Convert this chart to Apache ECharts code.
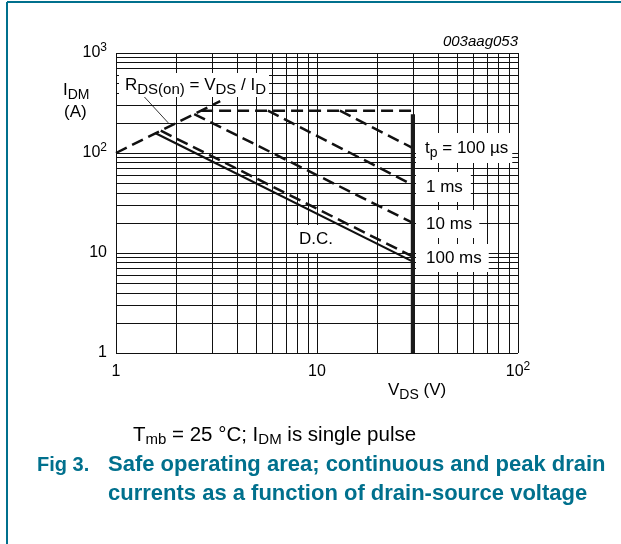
<!DOCTYPE html>
<html>
<head>
<meta charset="utf-8">
<script src="https://cdn.jsdelivr.net/npm/echarts@6/dist/echarts.min.js"></script>
<style>
html, body { margin: 0; padding: 0; background: #fff; }
#chart { width: 621px; height: 544px; }
</style>
</head>
<body>
<div id="chart"></div>
<script>
// Grid lines of the log-log safe operating area plot
const vdsGrid = [1, 2, 3, 4, 5, 6, 7, 8, 9, 10, 20, 30, 40, 50, 60, 70, 80, 90, 100];
const idGrid = [1, 2, 3, 4, 5, 6, 7, 8, 9, 10, 20, 30, 40, 50, 60, 70, 80, 90,
                100, 200, 300, 400, 500, 600, 700, 800, 900, 1000];
const vdsTicks = [1, 10, 100];
const idTicks = [1, 10, 100, 1000];

// Limit lines, [VDS (V), IDM (A)]
const rdsOnLimit = [[1, 100], [3.3, 330]];
const pulseTop = [[2.65, 265], [30, 265]];
const pulse100us = [[13, 265], [30, 112]];
const pulse1ms = [[5.7, 265], [30, 47.8]];
const pulse10ms = [[2.45, 245], [30, 20]];
const pulse100ms = [[1.67, 167], [30, 9.2]];
const dcLimit = [[1.575, 157.5], [30, 8.2]];
const vdsMax = [[30, 1], [30, 244]];
const rdsArrow = [[1.36, 378], [1.82, 200]];

const FONT = '"Liberation Sans", Arial, Helvetica, sans-serif';
const TEAL = '#00708d';
const INK = '#111';

function powLabel(v) {
  const e = Math.round(Math.log10(v));
  if (e === 0) return '1';
  if (e === 1) return '10';
  return '10{sup|' + e + '}';
}
const supRich = { sup: { fontSize: 12, lineHeight: 12, verticalAlign: 'top', fontFamily: FONT, color: '#000' } };

function dashed(name, data, width) {
  return {
    name, type: 'line', data, showSymbol: false, silent: true, z: 5,
    lineStyle: { color: INK, width: width || 2.5, type: [12, 6], cap: 'butt' }
  };
}

const gridLines = [];
vdsGrid.forEach(v => gridLines.push({ xAxis: v }));
idGrid.forEach(v => gridLines.push({ yAxis: v }));

// rich text styles for subscripts
const mainR = (size) => ({ fontSize: size, lineHeight: 24, fontFamily: FONT, color: '#000', verticalAlign: 'middle' });
const subR = (size) => ({ fontSize: size, lineHeight: 12, fontFamily: FONT, color: '#000', verticalAlign: 'bottom' });

function label(x, y, text, size, subSize, extra) {
  return {
    type: 'text', x, y, z: 100,
    style: Object.assign({
      text, fill: '#000', fontFamily: FONT, fontSize: size, lineHeight: 24,
      align: 'left', verticalAlign: 'middle',
      rich: { m: mainR(size), s: subR(subSize) }
    }, extra || {})
  };
}

function caption(x, y, text, size) {
  return {
    type: 'text', x, y, z: 100,
    style: { text, fill: TEAL, fontFamily: FONT, fontSize: size, fontWeight: 'bold', align: 'left', verticalAlign: 'middle' }
  };
}

const chart = echarts.init(document.getElementById('chart'), null, { renderer: 'canvas' });
chart.setOption({
  animation: false,
  backgroundColor: '#fff',
  grid: { left: 116, top: 53, width: 402, height: 300, containLabel: false },
  xAxis: {
    type: 'log', logBase: 10, min: 1, max: 100,
    axisLine: { show: false }, axisTick: { show: false }, splitLine: { show: false },
    axisLabel: {
      margin: 8, fontSize: 16, fontFamily: FONT, color: '#000', lineHeight: 22,
      formatter: powLabel, rich: supRich, showMinLabel: true, showMaxLabel: true
    }
  },
  yAxis: {
    type: 'log', logBase: 10, min: 1, max: 1000,
    axisLine: { show: false }, axisTick: { show: false }, splitLine: { show: false },
    axisLabel: {
      margin: 9, fontSize: 16, fontFamily: FONT, color: '#000', lineHeight: 22,
      formatter: powLabel, rich: supRich, showMinLabel: true, showMaxLabel: true
    }
  },
  series: [
    {
      name: 'grid', type: 'line', data: [], silent: true, z: 1,
      markLine: {
        silent: true, symbol: ['none', 'none'], label: { show: false },
        lineStyle: { color: '#111', width: 1, type: 'solid' },
        emphasis: { disabled: true },
        data: gridLines
      }
    },
    dashed('RDS(on) limit', rdsOnLimit),
    dashed('tp top', pulseTop),
    dashed('tp = 100 us', pulse100us),
    dashed('1 ms', pulse1ms),
    dashed('10 ms', pulse10ms),
    dashed('100 ms', pulse100ms),
    {
      name: 'D.C.', type: 'line', data: dcLimit, showSymbol: false, silent: true, z: 5,
      lineStyle: { color: INK, width: 2.2 }
    },
    {
      name: 'VDS max', type: 'line', data: vdsMax, showSymbol: false, silent: true, z: 6,
      lineStyle: { color: '#1a1a1a', width: 4.2, cap: 'butt' }
    },
    {
      name: 'arrow', type: 'line', data: [], silent: true, z: 7,
      markLine: {
        silent: true, symbol: ['none', 'arrow'], symbolSize: [0, 7], label: { show: false },
        lineStyle: { color: '#000', width: 0.8, type: 'solid' },
        emphasis: { disabled: true },
        data: [[{ coord: rdsArrow[0] }, { coord: rdsArrow[1] }]]
      }
    }
  ],
  graphic: [
    // outer frame
    { type: 'line', z: 100, shape: { x1: 7, y1: 2, x2: 621, y2: 2 }, style: { stroke: TEAL, lineWidth: 2 } },
    { type: 'line', z: 100, shape: { x1: 7, y1: 2, x2: 7, y2: 544 }, style: { stroke: TEAL, lineWidth: 2 } },

    { type: 'text', x: 518, y: 42, z: 100,
      style: { text: '003aag053', fill: '#000', fontFamily: FONT, fontSize: 15, fontStyle: 'italic', align: 'right', verticalAlign: 'middle' } },

    // axis names
    label(63, 90, '{m|I}{s|DM}', 17, 14),
    label(64, 112, '(A)', 17, 14),
    label(388, 390, '{m|V}{s|DS}{m| (V)}', 17, 14),

    // annotations
    label(119, 85, '{m|R}{s|DS(on)}{m| = V}{s|DS}{m| / I}{s|D}', 17, 15,
      { backgroundColor: '#fff', padding: [0, 3, 0, 6] }),
    label(416, 148, '{m|t}{s|p}{m| = 100 µs}', 17, 14,
      { backgroundColor: '#fff', padding: [3, 4, 3, 9] }),
    label(416, 187, '1 ms', 17, 14, { backgroundColor: '#fff', padding: [3, 8, 3, 10] }),
    label(416, 224, '10 ms', 17, 14, { backgroundColor: '#fff', padding: [2, 7, 2, 10] }),
    label(416, 258, '100 ms', 17, 14, { backgroundColor: '#fff', padding: [2, 7, 2, 10] }),
    label(294, 239, 'D.C.', 17, 14, { backgroundColor: '#fff', padding: [2, 4, 2, 5] }),

    // caption
    label(133, 435, '{m|T}{s|mb}{m| = 25 °C; I}{s|DM}{m| is single pulse}', 20.5, 15),
    caption(37, 465, 'Fig 3.', 20),
    caption(108, 465, 'Safe operating area; continuous and peak drain', 22),
    caption(108, 494, 'currents as a function of drain-source voltage', 22)
  ]
});
</script>
</body>
</html>
